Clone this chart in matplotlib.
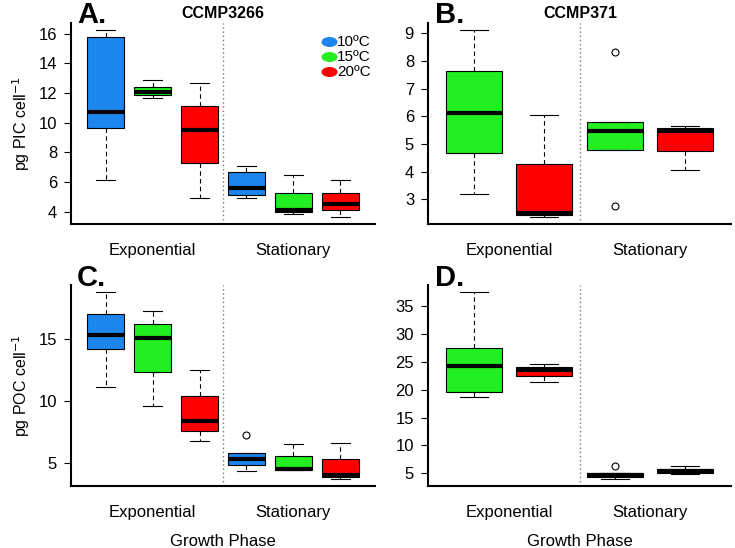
#!/usr/bin/env python3
"""
Boxplots of PIC and POC per cell for two strains across growth phases.
"""

import matplotlib
matplotlib.use('Agg')
import matplotlib.pyplot as plt
from matplotlib.patches import Ellipse

plt.rcParams['font.family'] = ['Liberation Sans', 'DejaVu Sans']

BLUE = '#1C86EE'
GREEN = '#22EE22'
RED = '#FF0000'

# Panel A: CCMP3266, PIC (10, 15, 20 C exponential, then stationary)
A_LO = [6.16, 11.68, 4.93, 4.93, 3.84, 3.66]
A_Q1 = [9.66, 11.84, 7.25, 5.09, 3.98, 4.07]
A_MED = [10.73, 12.07, 9.52, 5.59, 4.08, 4.50]
A_Q3 = [15.82, 12.43, 11.11, 6.68, 5.25, 5.25]
A_HI = [16.23, 12.86, 12.70, 7.09, 6.50, 6.11]
A_OUT = [[], [], [], [], [], []]

# Panel B: CCMP371, PIC (15, 20 C)
B_LO = [3.20, 2.37, 4.77, 4.05]
B_Q1 = [4.66, 2.43, 4.77, 4.75]
B_MED = [6.13, 2.49, 5.46, 5.46]
B_Q3 = [7.63, 4.27, 5.79, 5.58]
B_HI = [9.11, 6.05, 5.79, 5.66]
B_OUT = [[], [], [8.33, 2.77], []]

# Panel C: CCMP3266, POC
C_LO = [11.14, 9.62, 6.79, 4.34, 4.46, 3.75]
C_Q1 = [14.16, 12.36, 7.61, 4.88, 4.46, 3.86]
C_MED = [15.33, 15.05, 8.42, 5.33, 4.54, 4.00]
C_Q3 = [16.98, 16.17, 10.43, 5.85, 5.55, 5.30]
C_HI = [18.75, 17.28, 12.53, 5.85, 6.50, 6.60]
C_OUT = [[], [], [], [7.29], [], []]

# Panel D: CCMP371, POC
D_LO = [18.73, 21.46, 4.03, 4.93]
D_Q1 = [19.58, 22.55, 4.32, 4.95]
D_MED = [24.31, 23.52, 4.70, 5.42]
D_Q3 = [27.53, 24.07, 5.05, 5.73]
D_HI = [37.49, 24.62, 5.05, 6.23]
D_OUT = [[], [], [6.35], []]

PHASES = ['Exponential', 'Stationary']
TEMPS = ['10ºC', '15ºC', '20ºC']

W, H = 735, 548


def px_axes(fig, left, top, right, bottom):
    return fig.add_axes([left / W, 1 - bottom / H, (right - left) / W, (bottom - top) / H])


def draw_panel(ax, lo, q1, med, q3, hi, out, colors, yticks):
    n = len(med)
    stats = []
    for i in range(n):
        stats.append(dict(whislo=lo[i], q1=q1[i], med=med[i], q3=q3[i],
                          whishi=hi[i], fliers=out[i]))
    pos = list(range(1, n + 1))
    bp = ax.bxp(stats, positions=pos, widths=0.8, capwidths=0.4,
                patch_artist=True, showfliers=True,
                boxprops=dict(edgecolor='black', linewidth=0.8),
                medianprops=dict(color='black', linewidth=3, solid_capstyle='butt'),
                whiskerprops=dict(color='black', linewidth=0.8, linestyle=(0, (4, 3))),
                capprops=dict(color='black', linewidth=0.8),
                flierprops=dict(marker='o', markerfacecolor='none',
                                markeredgecolor='black', markersize=5,
                                markeredgewidth=0.8))
    for patch, c in zip(bp['boxes'], colors):
        patch.set_facecolor(c)

    allv = lo + hi + [v for f in out for v in f]
    ymin, ymax = min(allv), max(allv)
    pad = (ymax - ymin) * 0.04
    ax.set_ylim(ymin - pad, ymax + pad)
    ax.set_xlim(0.5 - 0.04 * n, n + 0.5 + 0.04 * n)

    half = n // 2
    ax.axvline(half + 0.5, color='#777777', linestyle=(0, (1, 2)), linewidth=1)

    ax.spines['top'].set_visible(False)
    ax.spines['right'].set_visible(False)
    ax.spines['left'].set_linewidth(1.5)
    ax.spines['bottom'].set_linewidth(1.5)
    ax.set_yticks(yticks)
    ax.set_yticklabels([str(t) for t in yticks])
    ax.tick_params(axis='y', length=5, width=0.8, labelsize=12, pad=5)
    ax.set_xticks([(1 + half) / 2, half + (1 + half) / 2])
    ax.set_xticklabels(PHASES)
    ax.tick_params(axis='x', length=0, labelsize=12, pad=14)


fig = plt.figure(figsize=(W / 100, H / 100), dpi=100)

axA = px_axes(fig, 71, 23, 375, 224)
draw_panel(axA, A_LO, A_Q1, A_MED, A_Q3, A_HI, A_OUT,
           [BLUE, GREEN, RED] * 2, [4, 6, 8, 10, 12, 14, 16])
axB = px_axes(fig, 428, 23, 731, 224)
draw_panel(axB, B_LO, B_Q1, B_MED, B_Q3, B_HI, B_OUT,
           [GREEN, RED] * 2, [3, 4, 5, 6, 7, 8, 9])
axC = px_axes(fig, 71, 285, 375, 486)
draw_panel(axC, C_LO, C_Q1, C_MED, C_Q3, C_HI, C_OUT,
           [BLUE, GREEN, RED] * 2, [5, 10, 15])
axD = px_axes(fig, 428, 285, 731, 486)
draw_panel(axD, D_LO, D_Q1, D_MED, D_Q3, D_HI, D_OUT,
           [GREEN, RED] * 2, [5, 10, 15, 20, 25, 30, 35])

axA.set_ylabel('pg PIC cell$^{-1}$', fontsize=11.5, labelpad=5)
axC.set_ylabel('pg POC cell$^{-1}$', fontsize=11.5, labelpad=5)
axC.set_xlabel('Growth Phase', fontsize=12, labelpad=10)
axD.set_xlabel('Growth Phase', fontsize=12, labelpad=10)

# panel letters and titles
fig.text(77 / W, 1 - 15 / H, 'A.', fontsize=21, fontweight='bold', va='center')
fig.text(435 / W, 1 - 15 / H, 'B.', fontsize=21, fontweight='bold', va='center')
fig.text(77 / W, 1 - 278 / H, 'C.', fontsize=21, fontweight='bold', va='center')
fig.text(435 / W, 1 - 278 / H, 'D.', fontsize=21, fontweight='bold', va='center')
fig.text(223 / W, 1 - 13 / H, 'CCMP3266', fontsize=11.5, fontweight='bold', ha='center', va='center')
fig.text(580 / W, 1 - 13 / H, 'CCMP371', fontsize=11.5, fontweight='bold', ha='center', va='center')

# legend in panel A
for i, (lab, c) in enumerate(zip(TEMPS, [BLUE, GREEN, RED])):
    yc = 1 - (42 + 15 * i) / H
    fig.patches.append(Ellipse((329.5 / W, yc), 16 / W, 10 / H, facecolor=c,
                               edgecolor='none', transform=fig.transFigure))
    fig.text(337 / W, yc, lab, fontsize=11, va='center')

fig.savefig('out.png', dpi=100)
